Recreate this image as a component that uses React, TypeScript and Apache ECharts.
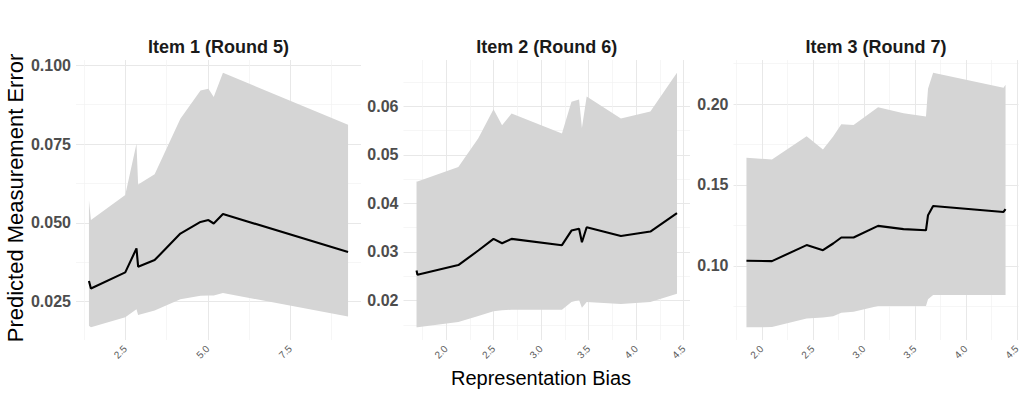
import React, { useEffect, useRef } from "react";
import * as echarts from "echarts";

// ---- Data ----
const panelTitles = ["Item 1 (Round 5)", "Item 2 (Round 6)", "Item 3 (Round 7)"];

const p1X = [1.40, 1.46, 2.50, 2.84, 2.89, 3.39, 4.17, 4.78, 5.02, 5.18, 5.46, 9.25];
const p1Fit = [0.0316, 0.0292, 0.0343, 0.0419, 0.0361, 0.0382, 0.0466, 0.0503, 0.0509, 0.0498, 0.0528, 0.0408];
const p1Upper = [0.0572, 0.0509, 0.0588, 0.0751, 0.0622, 0.0654, 0.0830, 0.0920, 0.0925, 0.0899, 0.0976, 0.0811];
const p1Lower = [0.0174, 0.0169, 0.0201, 0.0226, 0.0208, 0.0222, 0.0258, 0.0269, 0.0270, 0.0270, 0.0278, 0.0203];

const p2X = [1.69, 1.70, 2.13, 2.34, 2.50, 2.59, 2.69, 3.22, 3.32, 3.40, 3.43, 3.48, 3.84, 4.15, 4.43];
const p2Fit = [0.0262, 0.0253, 0.0273, 0.0303, 0.0327, 0.0318, 0.0327, 0.0314, 0.0344, 0.0348, 0.0320, 0.0351, 0.0333, 0.0342, 0.0380];
const p2Upper = [0.0445, 0.0445, 0.0475, 0.0534, 0.0594, 0.0561, 0.0585, 0.0544, 0.0609, 0.0614, 0.0555, 0.0620, 0.0575, 0.0589, 0.0669];
const p2Lower = [0.0145, 0.0145, 0.0156, 0.0168, 0.0178, 0.0180, 0.0181, 0.0181, 0.0197, 0.0201, 0.0185, 0.0197, 0.0193, 0.0197, 0.0214];

const p3X = [1.85, 2.10, 2.44, 2.60, 2.70, 2.78, 2.90, 3.14, 3.39, 3.61, 3.63, 3.68, 4.37, 4.39];
const p3Fit = [0.1031, 0.1029, 0.1128, 0.1097, 0.1138, 0.1175, 0.1175, 0.1247, 0.1227, 0.1220, 0.1313, 0.1370, 0.1333, 0.1350];
const p3Upper = [0.1669, 0.1657, 0.1801, 0.1720, 0.1800, 0.1875, 0.1870, 0.1981, 0.1944, 0.1924, 0.2095, 0.2194, 0.2101, 0.2120];
const p3Lower = [0.0620, 0.0621, 0.0675, 0.0680, 0.0688, 0.0710, 0.0716, 0.0751, 0.0751, 0.0751, 0.0793, 0.0819, 0.0819, 0.0819];

// tick values
const p1XTicks = [2.5, 5.0, 7.5];
const p1XMinor = [1.25, 3.75, 6.25, 8.75];
const p1YTicks = [0.025, 0.05, 0.075, 0.1];
const p1YMinor = [0.0125, 0.0375, 0.0625, 0.0875];

const p2XTicks = [2.0, 2.5, 3.0, 3.5, 4.0, 4.5];
const p2XMinor = [1.75, 2.25, 2.75, 3.25, 3.75, 4.25];
const p2YTicks = [0.02, 0.03, 0.04, 0.05, 0.06];
const p2YMinor = [0.015, 0.025, 0.035, 0.045, 0.055, 0.065];

const p3XTicks = [2.0, 2.5, 3.0, 3.5, 4.0, 4.5];
const p3XMinor = [1.75, 2.25, 2.75, 3.25, 3.75, 4.25];
const p3YTicks = [0.1, 0.15, 0.2];
const p3YMinor = [0.075, 0.125, 0.175, 0.225];

const xTitle = "Representation Bias";
const yTitle = "Predicted Measurement Error";

const FONT = '"Liberation Sans", Arial, Helvetica, sans-serif';

const panels = [
  { x: p1X, fit: p1Fit, up: p1Upper, lo: p1Lower, xt: p1XTicks, xm: p1XMinor, yt: p1YTicks, ym: p1YMinor, xDec: 1, yDec: 3 },
  { x: p2X, fit: p2Fit, up: p2Upper, lo: p2Lower, xt: p2XTicks, xm: p2XMinor, yt: p2YTicks, ym: p2YMinor, xDec: 1, yDec: 2 },
  { x: p3X, fit: p3Fit, up: p3Upper, lo: p3Lower, xt: p3XTicks, xm: p3XMinor, yt: p3YTicks, ym: p3YMinor, xDec: 1, yDec: 2 },
];

const gridBoxes = [
  { left: 76, width: 285 },
  { left: 403.5, width: 286.5 },
  { left: 733.5, width: 285 },
];
const GRID_TOP = 60;
const GRID_H = 280;

function expand(vals: number[]) {
  const mn = Math.min(...vals);
  const mx = Math.max(...vals);
  const r = mx - mn;
  return [mn - 0.05 * r, mx + 0.05 * r];
}

export default function App() {
  const ref = useRef<HTMLDivElement>(null);

  useEffect(() => {
    document.body.style.margin = "0";
    if (!ref.current) return;
    const chart = echarts.init(ref.current, undefined, { renderer: "svg" });

    const grid: any[] = [];
    const xAxis: any[] = [];
    const yAxis: any[] = [];
    const series: any[] = [];
    const graphic: any[] = [];

    panels.forEach((p, i) => {
      const gb = gridBoxes[i];
      grid.push({ left: gb.left, top: GRID_TOP, width: gb.width, height: GRID_H, containLabel: false });
      const [xMin, xMax] = expand(p.x);
      const [yMin, yMax] = expand([...p.up, ...p.lo]);

      // major x
      xAxis.push({
        type: "value", gridIndex: i, min: xMin, max: xMax,
        axisLine: { show: false },
        axisTick: { show: false, customValues: p.xt },
        axisLabel: {
          customValues: p.xt, rotate: 45, fontSize: 10, color: "#5a5a5a", margin: 7,
          fontFamily: FONT, formatter: (v: number) => v.toFixed(p.xDec),
        },
        splitLine: { show: true, lineStyle: { color: "#e8e8e8", width: 1 } },
      });
      // minor x
      xAxis.push({
        type: "value", gridIndex: i, min: xMin, max: xMax,
        axisLine: { show: false },
        axisTick: { show: false, customValues: p.xm },
        axisLabel: { show: false },
        splitLine: { show: true, lineStyle: { color: "#f2f2f2", width: 0.7 } },
      });
      // major y
      yAxis.push({
        type: "value", gridIndex: i, min: yMin, max: yMax,
        axisLine: { show: false },
        axisTick: { show: false, customValues: p.yt },
        axisLabel: {
          customValues: p.yt, fontSize: 16, fontWeight: "bold", color: "#4d4d4d", margin: 5,
          fontFamily: FONT, formatter: (v: number) => v.toFixed(p.yDec),
        },
        splitLine: { show: true, lineStyle: { color: "#e8e8e8", width: 1 } },
      });
      // minor y
      yAxis.push({
        type: "value", gridIndex: i, min: yMin, max: yMax,
        axisLine: { show: false },
        axisTick: { show: false, customValues: p.ym },
        axisLabel: { show: false },
        splitLine: { show: true, lineStyle: { color: "#f2f2f2", width: 0.7 } },
      });

      const xs = p.x, up = p.up, lo = p.lo;
      series.push({
        type: "custom",
        xAxisIndex: 2 * i, yAxisIndex: 2 * i,
        data: xs.map((x, j) => [x, lo[j], up[j]]),
        encode: { x: 0, y: [1, 2] },
        silent: true,
        renderItem: (params: any, api: any) => {
          if (params.dataIndex !== 0) return null;
          const pts: number[][] = [];
          for (let j = 0; j < xs.length; j++) pts.push(api.coord([xs[j], up[j]]));
          for (let j = xs.length - 1; j >= 0; j--) pts.push(api.coord([xs[j], lo[j]]));
          return { type: "polygon", shape: { points: pts }, style: { fill: "#d5d5d5" } };
        },
        z: 2,
      });
      series.push({
        type: "line",
        xAxisIndex: 2 * i, yAxisIndex: 2 * i,
        data: p.x.map((x, j) => [x, p.fit[j]]),
        symbol: "none",
        lineStyle: { color: "#000000", width: 2.1 },
        z: 3,
      });

      graphic.push({
        type: "text",
        x: gb.left + gb.width / 2,
        y: 47,
        style: {
          text: panelTitles[i], fontSize: 18, fontWeight: "bold", fill: "#1a1a1a",
          fontFamily: FONT, align: "center", verticalAlign: "middle",
        },
      });
    });

    graphic.push({
      type: "text", x: 541, y: 378,
      style: { text: xTitle, fontSize: 20, fill: "#000", fontFamily: FONT, align: "center", verticalAlign: "middle" },
    });
    graphic.push({
      type: "text", x: 15, y: 198, rotation: Math.PI / 2,
      style: { text: yTitle, fontSize: 22, fill: "#000", fontFamily: FONT, align: "center", verticalAlign: "middle" },
    });

    chart.setOption({
      animation: false,
      backgroundColor: "#ffffff",
      grid, xAxis, yAxis, series, graphic,
    });

    return () => chart.dispose();
  }, []);

  return <div ref={ref} style={{ width: 1024, height: 394 }} />;
}
